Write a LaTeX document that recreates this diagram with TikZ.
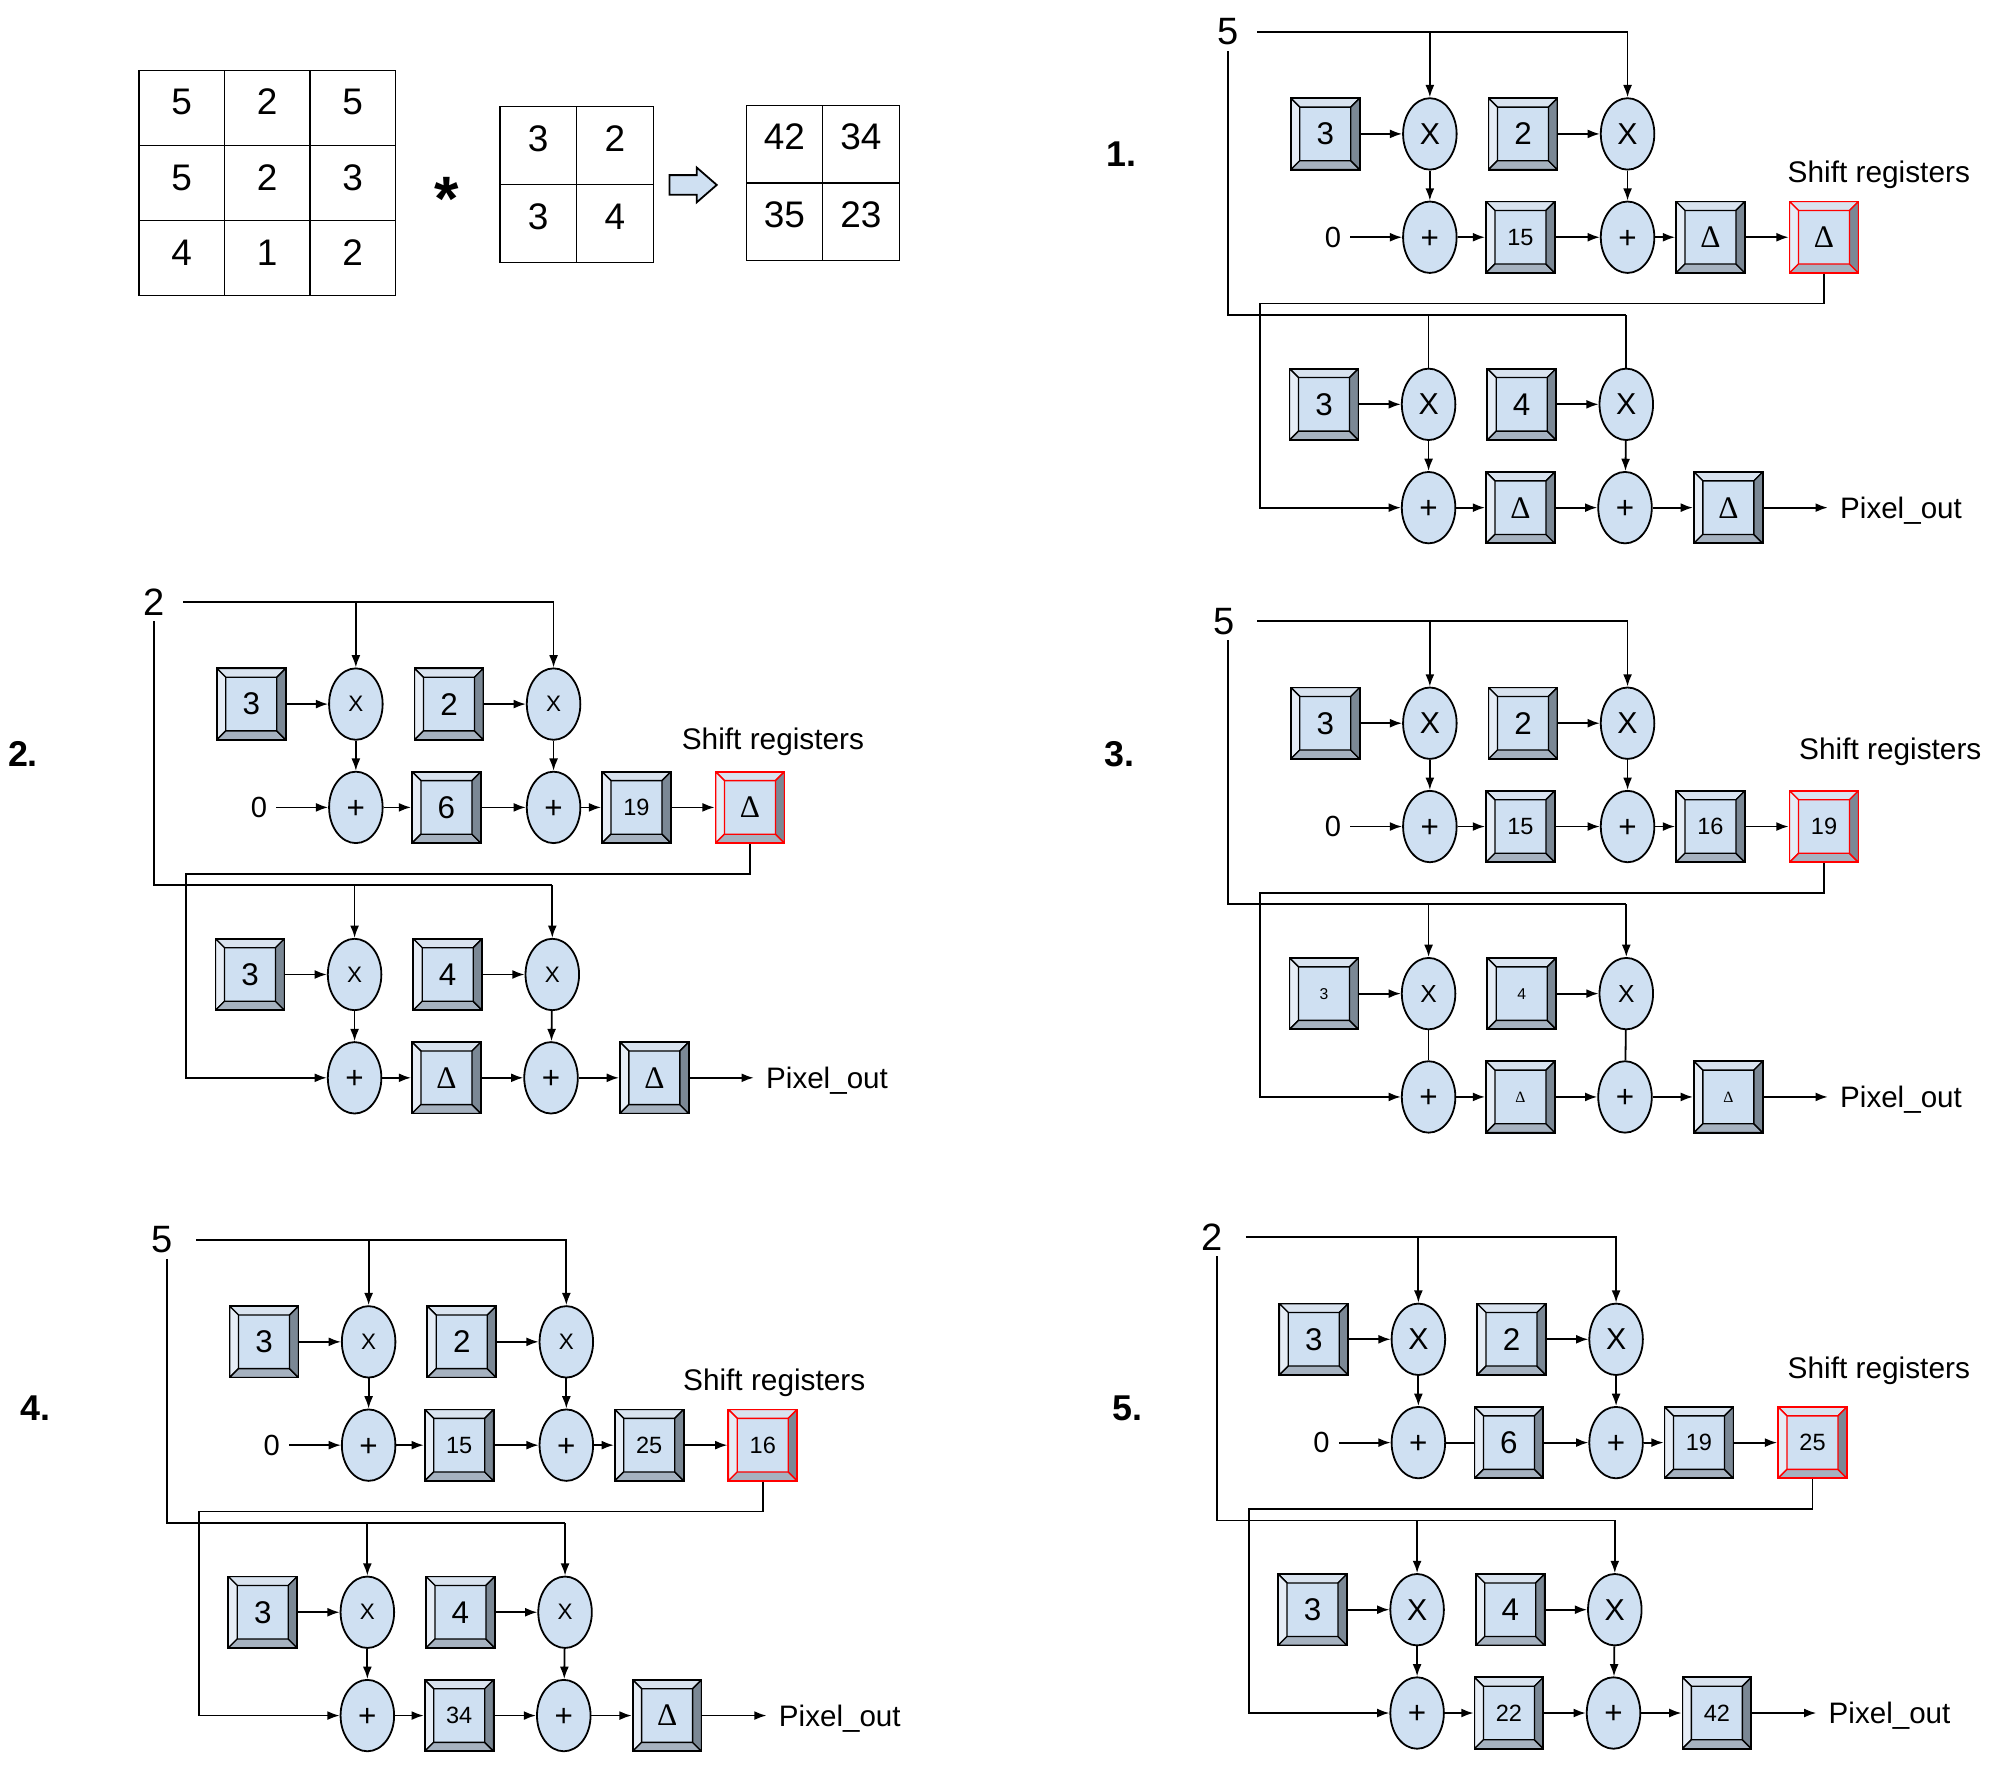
\documentclass[tikz,border=0pt]{standalone}
\usepackage{fontspec}
\setmainfont{Liberation Sans}
\newfontfamily\deltafont{Liberation Serif}
\usepackage{xcolor}
\usetikzlibrary{arrows.meta,calc,shapes.geometric,shapes.arrows}
\definecolor{boxfill}{HTML}{CFE0F2}
\definecolor{bevtop}{HTML}{D9E3EF}
\definecolor{bevleft}{HTML}{E6EDF6}
\definecolor{bevlow}{HTML}{A6B2C0}
\definecolor{bevright}{HTML}{7B8895}
\newcommand\fsize[1]{\fontsize{#1}{#1}\selectfont}
\newcommand\valtiny{\fsize{7}}
\newcommand\valsmall{\fsize{10.5}}
\newcommand\xsmall{\fsize{10}}
\newcommand\xmid{\fsize{11}}
\newcommand\xbig{\fsize{13.5}}
\newcommand\dlt{{\deltafont\fsize{14}Δ}}
\newcommand\dltiny{{\deltafont\fsize{7}Δ}}
\begin{document}
\begin{tikzpicture}[x=0.02cm,y=-0.02cm,line width=0.8pt,>={Latex[length=5.5pt,width=4pt]},
 regbox/.style={draw=#1,fill=boxfill,minimum width=1.08cm,minimum height=1.12cm,inner sep=0pt,font=\fsize{14},
  path picture={
   \path (path picture bounding box.north west) coordinate (bnw) (path picture bounding box.north east) coordinate (bne)
    (path picture bounding box.south west) coordinate (bsw) (path picture bounding box.south east) coordinate (bse);
   \path ($(bnw)+(.14cm,-.14cm)$) coordinate (inw) ($(bne)+(-.14cm,-.14cm)$) coordinate (ine)
    ($(bsw)+(.14cm,.14cm)$) coordinate (isw) ($(bse)+(-.14cm,.14cm)$) coordinate (ise);
   \filldraw[#1,line width=0.6pt,fill=bevtop] (bnw) -- (bne) -- (ine) -- (inw) -- cycle;
   \filldraw[#1,line width=0.6pt,fill=bevleft] (bnw) -- (bsw) -- (isw) -- (inw) -- cycle;
   \filldraw[#1,line width=0.6pt,fill=bevlow] (bsw) -- (bse) -- (ise) -- (isw) -- cycle;
   \filldraw[#1,line width=0.6pt,fill=bevright] (bne) -- (bse) -- (ise) -- (ine) -- cycle;
  }},
 regbox/.default=black,
 opnode/.style={draw,ellipse,fill=boxfill,minimum width=.84cm,minimum height=1.12cm,inner sep=0pt},
 addnode/.style={opnode,font=\fsize{14},text height=9.7pt,text depth=0pt},
 cell/.style={draw,line width=0.5pt,inner sep=0pt,font=\fsize{16.5},text height=12pt,text depth=#1},
 bigcell/.style={cell=5.6pt,minimum width=1.34cm,minimum height=1.18cm},
 smallcell/.style={cell=6.8pt,minimum width=1.2cm,minimum height=1.22cm},
 invalue/.style={minimum width=.88cm,minimum height=.6cm,inner sep=0pt,font=\fsize{17}},
 zero/.style={minimum width=.52cm,inner sep=0pt,font=\fsize{13}},
 tag/.style={font=\fsize{13.3},inner sep=0pt,text depth=0pt},
 step label/.style={font=\bfseries\fsize{16},inner sep=0pt},
 link/.style={->},
 wire/.style={-}]
\useasboundingbox (0,0) rectangle (1568,1398);
\foreach \c/\r/\v in {0/0/5,1/0/2,2/0/5,0/1/5,1/1/2,2/1/3,0/2/4,1/2/1,2/2/2}
 \node[bigcell] (inm\c\r) at (142.5+67*\c,84.5+59*\r) {\v};
\foreach \c/\r/\v in {0/0/3,1/0/2,0/1/3,1/1/4}
 \node[smallcell] (ker\c\r) at (422+60*\c,114+61*\r) {\v};
\foreach \c/\r/\v in {0/0/42,1/0/34,0/1/35,1/1/23}
 \node[smallcell] (res\c\r) at (615+60*\c,113+61*\r) {\v};
\node[inner sep=0pt,font=\bfseries\fsize{28}] (star) at (350,156) {*};
\node[draw,single arrow,fill=boxfill,minimum height=.74cm,minimum width=.52cm,single arrow head extend=.12cm,single arrow tip angle=82,inner xsep=0pt,inner ysep=.14cm] (yields) at (539,145) {};
\foreach \n/\dx/\dy/\nudge/\inv/\regpos/\labpos/\xup/\xlo/\ra/\rb/\rc/\ca/\cb/\rd/\re/\uptip/\downtip/\midtip in {
 1/0/0/0/5/{(1473,135)}/{(879,121)}/\xbig/\xbig/\valsmall 15/\dlt/\dlt/3/4/\dlt/\dlt/wire/link/link,
 2/-842/447/0/2/{(606,579)}/{(18,591)}/\xsmall/\xsmall/6/\valsmall 19/\dlt/3/4/\dlt/\dlt/link/link/link,
 3/0/462/-3/5/{(1482,587)}/{(878,591)}/\xbig/\xmid/\valsmall 15/\valsmall 16/\valsmall 19/\valtiny 3/\valtiny 4/\dltiny/\dltiny/link/wire/link,
 4/-832/947/-4/5/{(607,1082)}/{(28,1104)}/\xsmall/\xsmall/\valsmall 15/\valsmall 25/\valsmall 16/3/4/\valsmall 34/\dlt/link/link/link,
 5/-9/945/-4/2/{(1473,1072)}/{(884,1104)}/\xbig/\xbig/6/\valsmall 19/\valsmall 25/3/4/\valsmall 22/\valsmall 42/link/link/wire} {
 \begin{scope}[shift={(\dx,\dy)}]
 \node[invalue] (in\n) at (963+\nudge,25) {\inv};
 \coordinate (tap\n) at (963,40);
 \coordinate (rail\n) at (1275,247);
 \coordinate (back\n) at (988,238);
 \node[regbox] (ca\n) at (1039,105) {3};
 \node[opnode,font=\xup] (ma\n) at (1121,105) {X};
 \node[regbox] (cb\n) at (1194,105) {2};
 \node[opnode,font=\xup] (mb\n) at (1276,105) {X};
 \node[zero] (zero\n) at (1045,186) {0};
 \node[addnode] (aa\n) at (1121,186) {+};
 \node[regbox] (ra\n) at (1192,186) {\ra};
 \node[addnode] (ab\n) at (1276,186) {+};
 \node[regbox] (rb\n) at (1341,186) {\rb};
 \node[regbox=red] (rc\n) at (1430,186) {\rc};
 \node[regbox] (cc\n) at (1038,317) {\ca};
 \node[opnode,font=\xlo] (mc\n) at (1120,317) {X};
 \node[regbox] (cd\n) at (1193,317) {\cb};
 \node[opnode,font=\xlo] (md\n) at (1275,317) {X};
 \node[addnode] (ac\n) at (1120,398) {+};
 \node[regbox] (rd\n) at (1192,398) {\rd};
 \node[addnode] (ad\n) at (1274,398) {+};
 \node[regbox] (re\n) at (1355,398) {\re};
 \node[anchor=west,inner ysep=0pt,inner xsep=.18cm,text depth=0pt,font=\fsize{13.2}] (out\n) at (1433,398) {Pixel\_out};
 \draw[->] ([xshift=-\nudge*0.02cm]in\n.east) -| (mb\n);
 \draw[->] (in\n.east -| ma\n) -- (ma\n);
 \draw[->] (ca\n) -- (ma\n);
 \draw[->] (cb\n) -- (mb\n);
 \draw[->] (ma\n) -- (aa\n);
 \draw[->] (mb\n) -- (ab\n);
 \draw[->] (zero\n) -- (aa\n);
 \draw[\midtip] (aa\n) -- (ra\n);
 \draw[->] (ra\n) -- (ab\n);
 \draw[->] (ab\n) -- (rb\n);
 \draw[->] (rb\n) -- (rc\n);
 \draw (tap\n) |- (rail\n);
 \draw[\uptip] (rail\n -| mc\n) -- (mc\n);
 \draw[\uptip] (rail\n) -- (md\n);
 \draw[->] (rc\n) |- (back\n) |- (ac\n);
 \draw[->] (cc\n) -- (mc\n);
 \draw[->] (cd\n) -- (md\n);
 \draw[\downtip] (mc\n) -- (ac\n);
 \draw[\downtip] (md\n) -- (ad\n);
 \draw[->] (ac\n) -- (rd\n);
 \draw[->] (rd\n) -- (ad\n);
 \draw[->] (ad\n) -- (re\n);
 \draw[->] (re\n) -- (out\n);
 \end{scope}
 \node[tag] (shift\n) at \regpos {Shift registers};
 \node[step label] (label\n) at \labpos {\n.};
}
\end{tikzpicture}
\end{document}
